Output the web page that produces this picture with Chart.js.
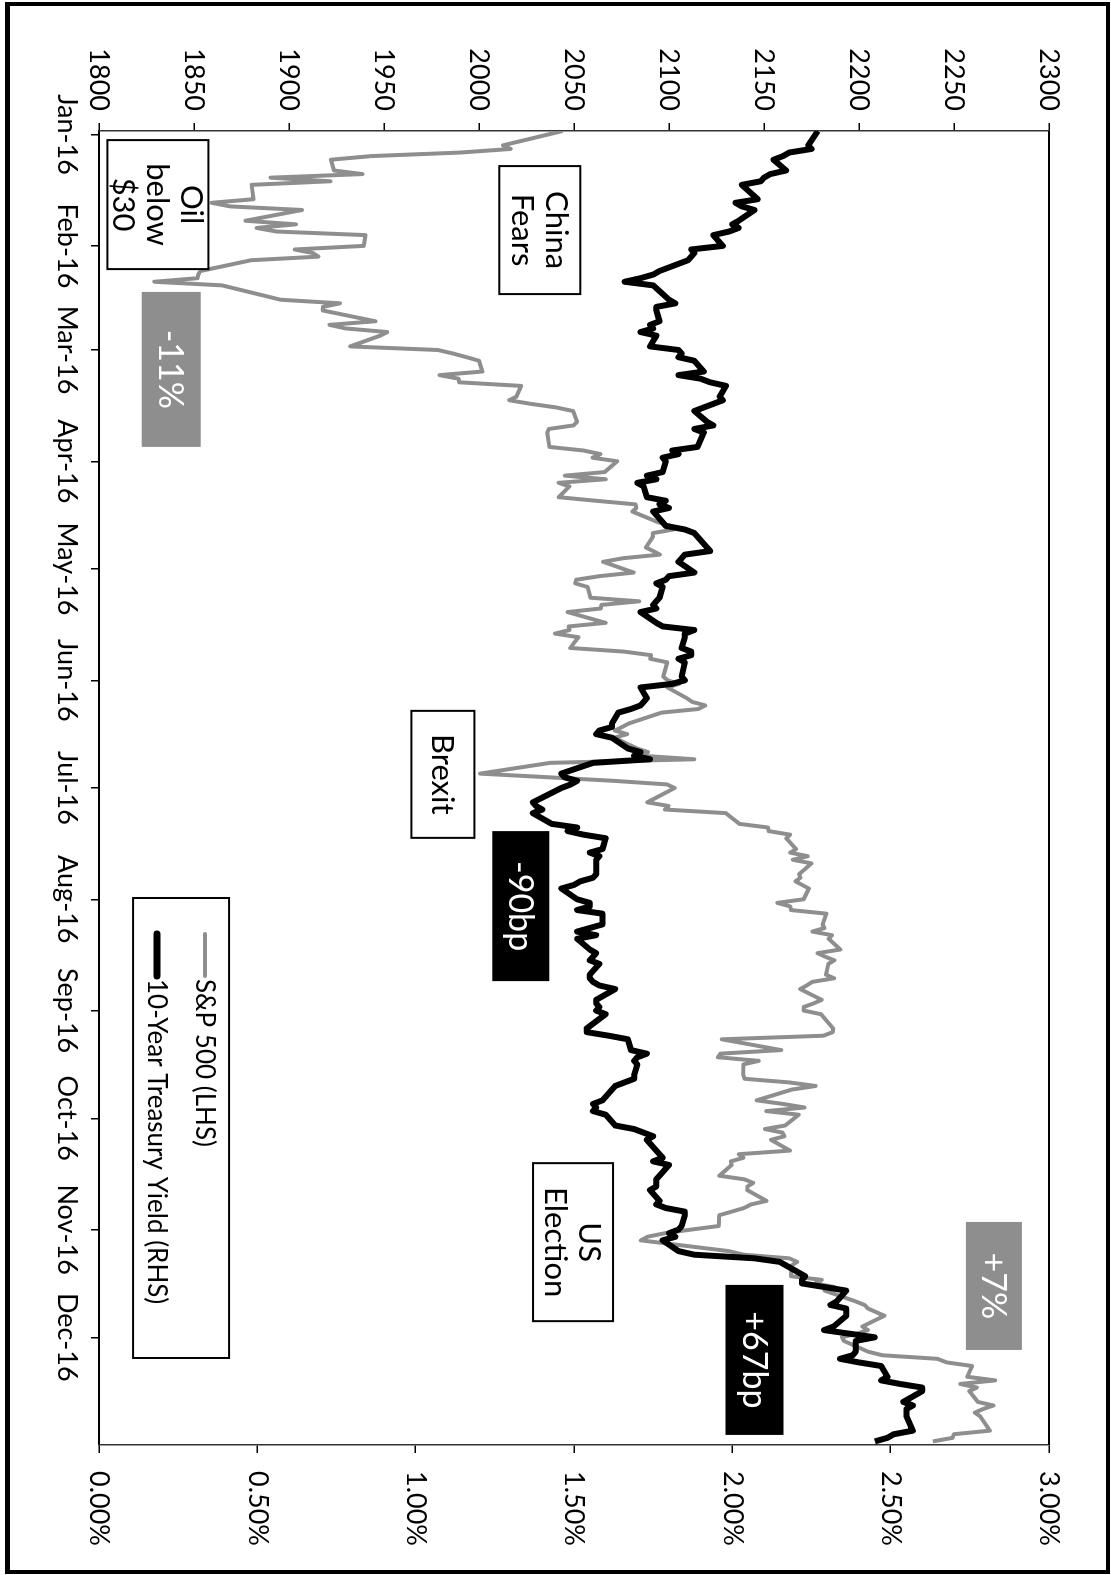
<!DOCTYPE html>
<html>
<head>
<meta charset="utf-8">
<title>S&amp;P 500 vs 10-Year Treasury Yield, 2016</title>
<script src="https://cdn.jsdelivr.net/npm/chart.js@4.4.1/dist/chart.umd.min.js"></script>
<style>
  html, body { margin: 0; padding: 0; background: #fff; }
  body { width: 1111px; height: 1575px; position: relative; overflow: hidden; }
  #frame { position: absolute; left: 5px; top: 2px; width: 1105px; height: 1572px; box-sizing: border-box; border: 4px solid #000; border-left-width: 5px; }
  /* the chart is laid out landscape and turned a quarter clockwise onto the page */
  #turn { position: absolute; left: 0; top: 0; width: 1575px; height: 1111px; transform-origin: 0 0; transform: translate(1111px, 0) rotate(90deg); }
</style>
</head>
<body>
<div id="frame"></div>
<div id="turn"><canvas id="chart" width="1575" height="1111"></canvas></div>
<script>
// DATA — daily closes, 2016
const tradeDates = [
  '2015-12-31',
  '2016-01-04','2016-01-05','2016-01-06','2016-01-07','2016-01-08','2016-01-11','2016-01-12','2016-01-13','2016-01-14','2016-01-15',
  '2016-01-19','2016-01-20','2016-01-21','2016-01-22','2016-01-25','2016-01-26','2016-01-27','2016-01-28','2016-01-29',
  '2016-02-01','2016-02-02','2016-02-03','2016-02-04','2016-02-05','2016-02-08','2016-02-09','2016-02-10','2016-02-11','2016-02-12',
  '2016-02-16','2016-02-17','2016-02-18','2016-02-19','2016-02-22','2016-02-23','2016-02-24','2016-02-25','2016-02-26','2016-02-29',
  '2016-03-01','2016-03-02','2016-03-03','2016-03-04','2016-03-07','2016-03-08','2016-03-09','2016-03-10','2016-03-11','2016-03-14',
  '2016-03-15','2016-03-16','2016-03-17','2016-03-18','2016-03-21','2016-03-22','2016-03-23','2016-03-24','2016-03-28','2016-03-29',
  '2016-03-30','2016-03-31',
  '2016-04-01','2016-04-04','2016-04-05','2016-04-06','2016-04-07','2016-04-08','2016-04-11','2016-04-12','2016-04-13','2016-04-14',
  '2016-04-15','2016-04-18','2016-04-19','2016-04-20','2016-04-21','2016-04-22','2016-04-25','2016-04-26','2016-04-27','2016-04-28',
  '2016-04-29',
  '2016-05-02','2016-05-03','2016-05-04','2016-05-05','2016-05-06','2016-05-09','2016-05-10','2016-05-11','2016-05-12','2016-05-13',
  '2016-05-16','2016-05-17','2016-05-18','2016-05-19','2016-05-20','2016-05-23','2016-05-24','2016-05-25','2016-05-26','2016-05-27',
  '2016-05-31',
  '2016-06-01','2016-06-02','2016-06-03','2016-06-06','2016-06-07','2016-06-08','2016-06-09','2016-06-10','2016-06-13','2016-06-14',
  '2016-06-15','2016-06-16','2016-06-17','2016-06-20','2016-06-21','2016-06-22','2016-06-23','2016-06-24','2016-06-27','2016-06-28',
  '2016-06-29','2016-06-30',
  '2016-07-01','2016-07-05','2016-07-06','2016-07-07','2016-07-08','2016-07-11','2016-07-12','2016-07-13','2016-07-14','2016-07-15',
  '2016-07-18','2016-07-19','2016-07-20','2016-07-21','2016-07-22','2016-07-25','2016-07-26','2016-07-27','2016-07-28','2016-07-29',
  '2016-08-01','2016-08-02','2016-08-03','2016-08-04','2016-08-05','2016-08-08','2016-08-09','2016-08-10','2016-08-11','2016-08-12',
  '2016-08-15','2016-08-16','2016-08-17','2016-08-18','2016-08-19','2016-08-22','2016-08-23','2016-08-24','2016-08-25','2016-08-26',
  '2016-08-29','2016-08-30','2016-08-31',
  '2016-09-01','2016-09-02','2016-09-06','2016-09-07','2016-09-08','2016-09-09','2016-09-12','2016-09-13','2016-09-14','2016-09-15',
  '2016-09-16','2016-09-19','2016-09-20','2016-09-21','2016-09-22','2016-09-23','2016-09-26','2016-09-27','2016-09-28','2016-09-29',
  '2016-09-30',
  '2016-10-03','2016-10-04','2016-10-05','2016-10-06','2016-10-07','2016-10-10','2016-10-11','2016-10-12','2016-10-13','2016-10-14',
  '2016-10-17','2016-10-18','2016-10-19','2016-10-20','2016-10-21','2016-10-24','2016-10-25','2016-10-26','2016-10-27','2016-10-28',
  '2016-10-31',
  '2016-11-01','2016-11-02','2016-11-03','2016-11-04','2016-11-07','2016-11-08','2016-11-09','2016-11-10','2016-11-11','2016-11-14',
  '2016-11-15','2016-11-16','2016-11-17','2016-11-18','2016-11-21','2016-11-22','2016-11-23','2016-11-25','2016-11-28','2016-11-29',
  '2016-11-30',
  '2016-12-01','2016-12-02','2016-12-05','2016-12-06','2016-12-07','2016-12-08','2016-12-09','2016-12-12','2016-12-13','2016-12-14',
  '2016-12-15','2016-12-16','2016-12-19','2016-12-20','2016-12-21','2016-12-22','2016-12-23','2016-12-27','2016-12-28','2016-12-29',
  '2016-12-30'
];

const spxClose = [
  2043.94,
  2012.66,2016.71,1990.26,1943.09,1922.03,1923.67,1938.68,1890.28,1921.84,1880.33,
  1881.33,1859.33,1868.99,1906.90,1877.08,1903.63,1882.95,1893.36,1940.24,
  1939.38,1903.03,1912.53,1915.45,1880.05,1853.44,1852.21,1851.86,1829.08,1864.78,
  1895.58,1926.82,1917.83,1917.78,1945.50,1921.27,1929.80,1951.70,1948.05,1932.23,
  1978.35,1986.45,1993.40,1999.99,2001.76,1979.26,1989.26,1989.57,2022.19,2019.64,
  2015.93,2027.22,2040.59,2049.58,2051.60,2049.80,2036.71,2035.94,2037.05,2055.01,
  2063.95,2059.74,
  2072.78,2066.13,2045.17,2066.66,2041.91,2047.60,2041.99,2061.72,2082.42,2082.78,
  2080.73,2094.34,2100.80,2102.40,2091.48,2091.58,2087.79,2091.70,2095.15,2075.81,
  2065.30,
  2081.43,2063.37,2051.12,2050.63,2057.14,2058.69,2084.39,2064.46,2064.11,2046.61,
  2066.66,2047.21,2047.63,2040.04,2052.32,2048.04,2076.06,2090.54,2090.10,2099.06,
  2096.95,
  2099.33,2105.26,2099.13,2109.41,2112.13,2119.12,2115.48,2096.07,2079.06,2075.32,
  2071.50,2077.99,2071.22,2083.25,2088.90,2085.45,2113.32,2037.41,2000.54,2036.09,
  2070.77,2098.86,
  2102.95,2088.55,2099.73,2097.90,2129.90,2137.16,2152.14,2152.43,2163.75,2161.74,
  2166.89,2163.78,2173.02,2165.17,2175.03,2168.48,2169.18,2166.58,2170.06,2173.60,
  2170.84,2157.03,2163.79,2164.25,2182.87,2180.89,2181.74,2175.49,2185.79,2184.05,
  2190.15,2178.15,2182.22,2187.02,2183.87,2182.64,2186.90,2175.44,2172.47,2169.04,
  2180.38,2176.12,2170.95,
  2170.86,2179.98,2186.48,2186.16,2181.30,2127.81,2159.04,2127.02,2125.77,2147.26,
  2139.16,2139.12,2139.76,2163.12,2177.18,2164.69,2146.10,2159.93,2171.37,2151.13,
  2168.27,
  2161.20,2150.49,2159.73,2160.77,2153.74,2163.66,2136.73,2139.18,2132.55,2132.98,
  2126.50,2139.60,2144.29,2141.34,2141.16,2151.33,2143.16,2139.43,2133.04,2126.41,
  2126.15,
  2111.72,2097.94,2088.66,2085.18,2131.52,2139.56,2163.26,2167.48,2164.45,2164.20,
  2180.39,2176.94,2187.12,2181.90,2198.18,2202.94,2204.72,2213.35,2201.72,2204.66,
  2198.81,
  2191.08,2191.95,2204.71,2212.23,2241.35,2246.19,2259.53,2256.96,2271.72,2253.28,
  2262.03,2258.07,2262.53,2270.76,2265.18,2260.96,2263.79,2268.88,2249.92,2249.26,
  2238.83
];

// 10-year yield in %; null where the bond market was shut
const ust10y = [
  2.27,
  2.24,2.25,2.18,2.16,2.13,2.17,2.12,2.10,2.09,2.03,
  2.08,2.01,2.03,2.07,2.02,2.00,2.02,1.99,1.94,
  1.97,1.87,1.88,1.87,1.86,1.77,1.75,1.71,1.66,1.75,
  1.80,1.82,1.76,1.76,1.77,1.74,1.75,1.71,1.76,1.74,
  1.83,1.84,1.83,1.88,1.91,1.83,1.90,1.93,1.98,1.96,
  1.97,1.94,1.91,1.88,1.92,1.94,1.88,1.91,1.89,1.81,
  1.83,1.78,
  1.79,1.78,1.73,1.76,1.70,1.72,1.73,1.79,1.77,1.80,
  1.75,1.78,1.79,1.85,1.88,1.89,1.92,1.93,1.85,1.84,
  1.83,
  1.88,1.80,1.79,1.76,1.78,1.77,1.76,1.75,1.76,1.71,
  1.76,1.78,1.88,1.85,1.85,1.84,1.87,1.87,1.83,1.85,
  1.84,
  1.85,1.81,1.71,1.73,1.72,1.71,1.68,1.64,1.62,1.62,
  1.58,1.57,1.62,1.67,1.71,1.69,1.74,1.56,1.46,1.47,
  1.51,1.49,
  1.46,1.37,1.38,1.40,1.37,1.43,1.51,1.48,1.53,1.60,
  1.59,1.55,1.58,1.57,1.57,1.57,1.56,1.52,1.50,1.46,
  1.51,1.55,1.55,1.51,1.59,1.59,1.55,1.51,1.57,1.51,
  1.55,1.57,1.56,1.55,1.58,1.55,1.55,1.56,1.58,1.63,
  1.57,1.57,1.58,
  1.57,1.60,1.54,1.54,1.61,1.67,1.68,1.73,1.70,1.69,
  1.70,1.69,1.69,1.66,1.63,1.62,1.59,1.56,1.57,1.56,
  1.60,
  1.63,1.69,1.72,1.75,1.73,null,1.77,1.78,1.75,1.80,
  1.77,1.76,1.76,1.76,1.74,1.77,1.76,1.79,1.85,1.85,
  1.84,
  1.83,1.80,1.82,1.78,1.83,1.88,2.07,2.15,null,2.23,
  2.22,2.22,2.29,2.36,2.33,2.31,2.36,2.36,2.32,2.29,
  2.37,
  2.45,2.39,2.39,2.38,2.34,2.40,2.47,2.49,2.47,2.53,
  2.60,2.60,2.54,2.57,2.55,2.55,2.55,2.57,2.51,2.49,
  2.45
];

const monthLabels = ['Jan-16','Feb-16','Mar-16','Apr-16','May-16','Jun-16','Jul-16','Aug-16','Sep-16','Oct-16','Nov-16','Dec-16'];
const spxTicks = [1800, 1850, 1900, 1950, 2000, 2050, 2100, 2150, 2200, 2250, 2300];
const yieldTicks = [0, 0.5, 1, 1.5, 2, 2.5, 3];

// callouts, placed on the day axis and the S&P scale
const notes = [
  { lines: ['Oil', 'below', '$30'], day: 19.5, spx: 1831, w: 129, h: 101, kind: 'box' },
  { lines: ['China', 'Fears'], day: 26.6, spx: 2032, w: 128, h: 81, kind: 'box' },
  { lines: ['-11%'], day: 65.4, spx: 1838, w: 155, h: 59, kind: 'grey' },
  { lines: ['Brexit'], day: 178.2, spx: 1981, w: 127, h: 63, kind: 'box' },
  { lines: ['-90bp'], day: 214.9, spx: 2022, w: 150, h: 57, kind: 'black' },
  { lines: ['US', 'Election'], day: 308.5, spx: 2049.5, w: 158, h: 80, kind: 'box' },
  { lines: ['+67bp'], day: 341.3, spx: 2145, w: 150, h: 58, kind: 'black' },
  { lines: ['+7%'], day: 320.7, spx: 2271, w: 128, h: 56, kind: 'grey' }
];

const GREY = '#8e8e8e';
const FONT = 'Lato, "DejaVu Sans", sans-serif';

const dayOf = s => (Date.parse(s) - Date.parse('2016-01-01')) / 864e5;
const monthDays = monthLabels.map((_, i) => dayOf('2016-' + String(i + 1).padStart(2, '0') + '-01'));

const spxPoints = tradeDates.map((d, i) => ({ x: dayOf(d), y: spxClose[i] }));
const ustPoints = tradeDates.map((d, i) => ({ x: dayOf(d), y: ust10y[i] }));

// notes, legend and the top edge of the plot
const overlay = {
  id: 'overlay',
  afterDraw(chart) {
    const { ctx, chartArea: a, scales: { x, yL } } = chart;
    ctx.save();
    ctx.strokeStyle = '#000';
    ctx.lineWidth = 2;
    ctx.beginPath();
    ctx.moveTo(a.left, a.top);
    ctx.lineTo(a.right, a.top);
    ctx.stroke();

    notes.forEach(n => {
      const cx = x.getPixelForValue(n.day), cy = yL.getPixelForValue(n.spx);
      const l = cx - n.w / 2, t = cy - n.h / 2;
      if (n.kind === 'box') {
        ctx.fillStyle = '#fff';
        ctx.fillRect(l, t, n.w, n.h);
        ctx.lineWidth = 2;
        ctx.strokeStyle = '#000';
        ctx.strokeRect(l, t, n.w, n.h);
        ctx.fillStyle = '#000';
        ctx.font = '31px ' + FONT;
      } else {
        ctx.fillStyle = n.kind === 'grey' ? GREY : '#000';
        ctx.fillRect(l, t, n.w, n.h);
        ctx.fillStyle = '#fff';
        ctx.font = '34px ' + FONT;
      }
      ctx.textAlign = 'center';
      ctx.textBaseline = 'middle';
      const lh = 34;
      n.lines.forEach((s, i) => {
        ctx.fillText(s, cx, cy + (i - (n.lines.length - 1) / 2) * lh + 1);
      });
    });

    // legend box
    const lx = x.getPixelForValue(276.7), ly = yL.getPixelForValue(1843.2);
    const lw = 460, lhgt = 96;
    const bl = lx - lw / 2, bt = ly - lhgt / 2;
    ctx.fillStyle = '#fff';
    ctx.fillRect(bl, bt, lw, lhgt);
    ctx.lineWidth = 2;
    ctx.strokeStyle = '#000';
    ctx.strokeRect(bl, bt, lw, lhgt);
    const rows = [
      { text: 'S&P 500 (LHS)', color: GREY, width: 4 },
      { text: '10-Year Treasury Yield (RHS)', color: '#000', width: 7 }
    ];
    ctx.font = '26px ' + FONT;
    ctx.textAlign = 'left';
    ctx.textBaseline = 'middle';
    rows.forEach((r, i) => {
      const ry = ly - 24 + i * 48;
      ctx.strokeStyle = r.color;
      ctx.lineWidth = r.width;
      ctx.lineCap = 'round';
      ctx.beginPath();
      ctx.moveTo(bl + 36, ry);
      ctx.lineTo(bl + 78, ry);
      ctx.stroke();
      ctx.fillStyle = '#000';
      ctx.fillText(r.text, bl + 81, ry + 1);
    });
    ctx.restore();
  }
};

Chart.defaults.font.family = FONT;
Chart.defaults.font.size = 27;
Chart.defaults.color = '#000';

new Chart(document.getElementById('chart'), {
  type: 'line',
  data: {
    datasets: [
      {
        label: '10-Year Treasury Yield (RHS)',
        data: ustPoints,
        yAxisID: 'yR',
        borderColor: '#000',
        borderWidth: 6,
        pointRadius: 0,
        tension: 0,
        spanGaps: true,
        borderJoinStyle: 'round',
        order: 0
      },
      {
        label: 'S&P 500 (LHS)',
        data: spxPoints,
        yAxisID: 'yL',
        borderColor: GREY,
        borderWidth: 4,
        pointRadius: 0,
        tension: 0,
        borderJoinStyle: 'round',
        order: 1
      }
    ]
  },
  options: {
    responsive: false,
    animation: false,
    devicePixelRatio: 1,
    layout: { padding: { left: 0, right: 0, top: 62, bottom: 0 } },
    plugins: { legend: { display: false }, tooltip: { enabled: false } },
    scales: {
      x: {
        type: 'linear',
        min: -1,
        max: 365,
        afterBuildTicks: axis => { axis.ticks = monthDays.map(v => ({ value: v })); },
        afterFit: s => { s.height = 99; },
        ticks: { autoSkip: false, maxRotation: 0, padding: 8, callback: (v, i) => monthLabels[i] },
        grid: { drawOnChartArea: false, tickLength: 8, color: '#000', lineWidth: 1.5 },
        border: { color: '#000', width: 2 }
      },
      yL: {
        position: 'left',
        min: 1800,
        max: 2300,
        afterBuildTicks: axis => { axis.ticks = spxTicks.map(v => ({ value: v })); },
        afterFit: s => { s.width = 131; },
        ticks: { padding: 12, callback: v => String(v) },
        grid: { drawOnChartArea: false, tickLength: 8, color: '#000', lineWidth: 1.5 },
        border: { color: '#333', width: 1.5 }
      },
      yR: {
        position: 'right',
        min: 0,
        max: 3,
        afterBuildTicks: axis => { axis.ticks = yieldTicks.map(v => ({ value: v })); },
        afterFit: s => { s.width = 130; },
        ticks: { padding: 18, callback: v => v.toFixed(2) + '%' },
        grid: { drawOnChartArea: false, tickLength: 8, color: '#000', lineWidth: 1.5 },
        border: { color: '#333', width: 1.5 }
      }
    }
  },
  plugins: [overlay]
});
</script>
</body>
</html>
